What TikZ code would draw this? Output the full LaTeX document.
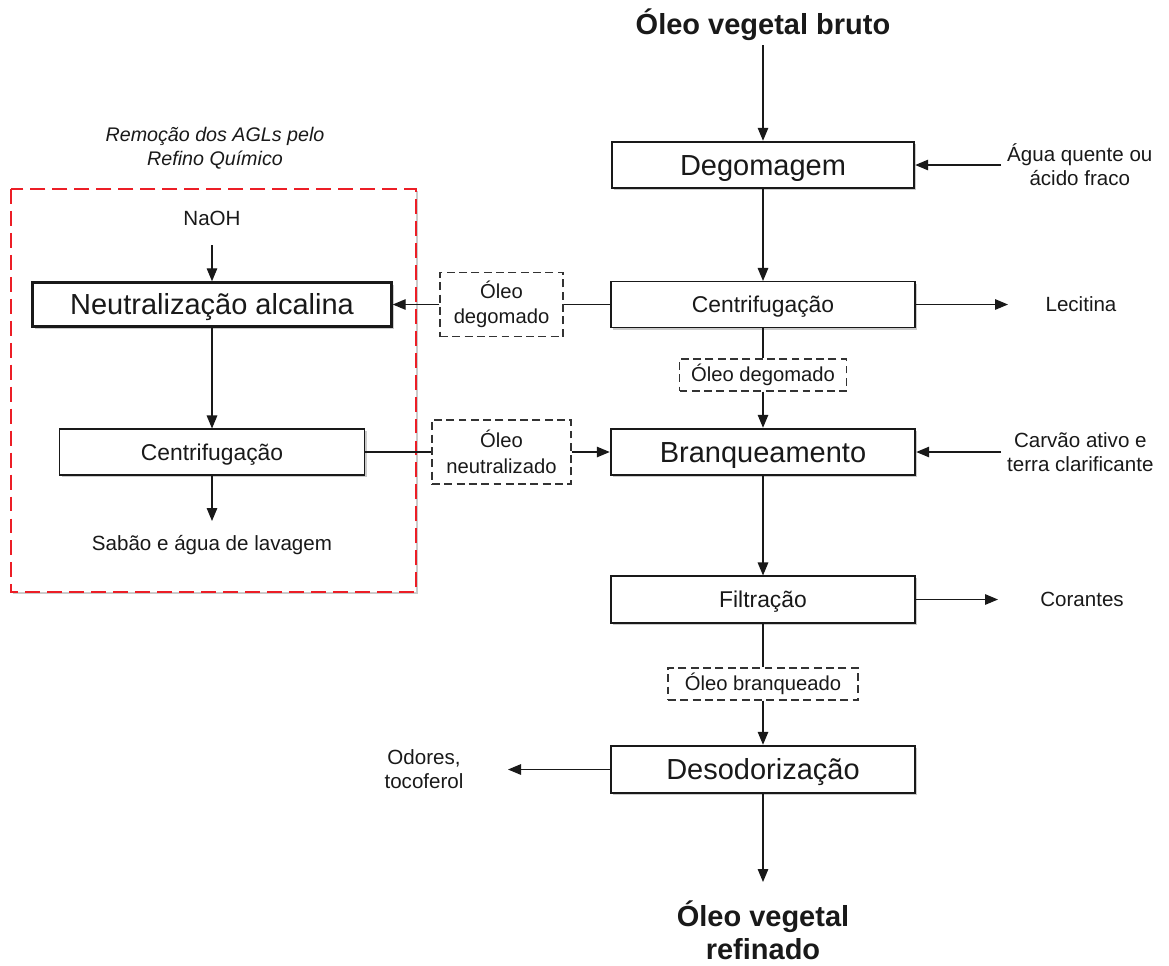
\documentclass[tikz,border=0pt]{standalone}
\usepackage{fontspec}
\setmainfont{Liberation Sans}
\usetikzlibrary{arrows.meta,shadows}
\definecolor{groupred}{RGB}{236,30,38}

\begin{document}
\begin{tikzpicture}[
    >={Triangle[length=7.4pt,width=6pt]}, text=black!90,
    boxshadow/.style={drop shadow={shadow xshift=1.3pt, shadow yshift=-1.3pt, fill=black!45, opacity=0.45}},
    stage/.style={draw=black!90, line width=1.4pt, fill=white, boxshadow, inner sep=0pt,
        text height=15.5pt, text depth=3.6pt,
        minimum height=0.92cm, font=\fontsize{16.5}{19}\selectfont},
    unit/.style={draw=black!90, line width=0.6pt, fill=white, boxshadow, inner sep=0pt,
        text height=12.2pt, text depth=2.8pt,
        minimum height=0.92cm, font=\fontsize{13}{15}\selectfont},
    stream/.style={draw=black!80, line width=0.6pt, dash pattern=on 4.5pt off 2.5pt, fill=white,
        inner sep=0pt, align=center, font=\fontsize{11.5}{14.5}\selectfont},
    side/.style={align=center, font=\fontsize{11.7}{13.6}\selectfont},
    headline/.style={align=center, font=\bfseries\fontsize{16.5}{18.7}\selectfont},
    flow/.style={line width=0.7pt, draw=black!90}]
    \useasboundingbox (0, 0) rectangle (23.38, -19.3);

    \draw [draw=groupred, line width=1.4pt, dash pattern=on 8.5pt off 4pt, fill=white, boxshadow]
        (0.22, -3.78) rectangle (8.32, -11.84);
    \node [align=center, font=\itshape\fontsize{11.2}{13.6}\selectfont] (chem) at (4.30, -2.96)
        {Remoção dos AGLs pelo\\Refino Químico};

    \node [headline] (crude) at (15.26, -0.50) {Óleo vegetal bruto};
    \node [stage, minimum width=6.04cm] (degum) at (15.26, -3.30) {Degomagem};
    \node [unit, minimum width=6.08cm] (centr) at (15.26, -6.09) {Centrifugação};
    \node [stage, minimum width=6.08cm] (bleach) at (15.26, -9.04) {Branqueamento};
    \node [unit, minimum width=6.08cm, minimum height=0.94cm] (filt) at (15.26, -11.99) {Filtração};
    \node [stage, minimum width=6.08cm, minimum height=0.94cm] (deod) at (15.26, -15.39) {Desodorização};
    \node [headline] (refined) at (15.26, -18.61) {Óleo vegetal\\refinado};

    \node [stage, minimum width=7.18cm, minimum height=0.88cm] (neutr) at (4.24, -6.09) {Neutralização alcalina};
    \node [unit, minimum width=6.10cm] (centrL) at (4.24, -9.04) {Centrifugação};

    \node [stream, minimum width=2.46cm, minimum height=1.28cm] (degoil) at (10.03, -6.09) {Óleo\\degomado};
    \node [stream, minimum width=3.34cm, minimum height=0.64cm] (degoilB) at (15.26, -7.50) {Óleo degomado};
    \node [stream, minimum width=2.78cm, minimum height=1.28cm] (neutoil) at (10.03, -9.04) {Óleo\\neutralizado};
    \node [stream, minimum width=3.80cm, minimum height=0.64cm] (bleoil) at (15.26, -13.68) {Óleo branqueado};

    \node [side, anchor=west] (water) at (20.02, -3.30) {Água quente ou\\ácido fraco};
    \node [side] (lec) at (21.62, -6.09) {Lecitina};
    \node [side, anchor=west] (clay) at (20.02, -9.04) {Carvão ativo e\\terra clarificante};
    \node [side] (dye) at (21.64, -11.99) {Corantes};
    \node [side] (odor) at (8.48, -15.39) {Odores,\\tocoferol};
    \node [side] (naoh) at (4.24, -4.36) {NaOH};
    \node [side] (soap) at (4.24, -10.90) {Sabão e água de lavagem};

    \coordinate (lecIn) at (20.16, -6.09);
    \coordinate (dyeIn) at (19.96, -11.99);
    \coordinate (odorIn) at (10.16, -15.39);
    \coordinate (naohOut) at (4.24, -4.90);
    \coordinate (soapIn) at (4.24, -10.42);
    \coordinate (refIn) at (15.26, -17.64);
    \coordinate (crudeOut) at (15.26, -0.90);

    \draw [flow,->] (crudeOut) -- (degum);
    \draw [flow,->] (water.west) -- (degum.east);
    \draw [flow,->] (degum) -- (centr);
    \draw [flow,->] (centr) -- (lecIn);
    \draw [flow] (centr) -- (degoil);
    \draw [flow,->] (degoil) -- (neutr);
    \draw [flow] (centr) -- (degoilB);
    \draw [flow,->] (degoilB) -- (bleach);
    \draw [flow,->] (naohOut) -- (neutr);
    \draw [flow,->] (neutr) -- (centrL);
    \draw [flow,->] (centrL) -- (soapIn);
    \draw [flow] (centrL) -- (neutoil);
    \draw [flow,->] (neutoil) -- (bleach);
    \draw [flow,->] (clay.west) -- (bleach.east);
    \draw [flow,->] (bleach) -- (filt);
    \draw [flow,->] (filt) -- (dyeIn);
    \draw [flow] (filt) -- (bleoil);
    \draw [flow,->] (bleoil) -- (deod);
    \draw [flow,->] (deod) -- (odorIn);
    \draw [flow,->] (deod) -- (refIn);
\end{tikzpicture}
\end{document}
